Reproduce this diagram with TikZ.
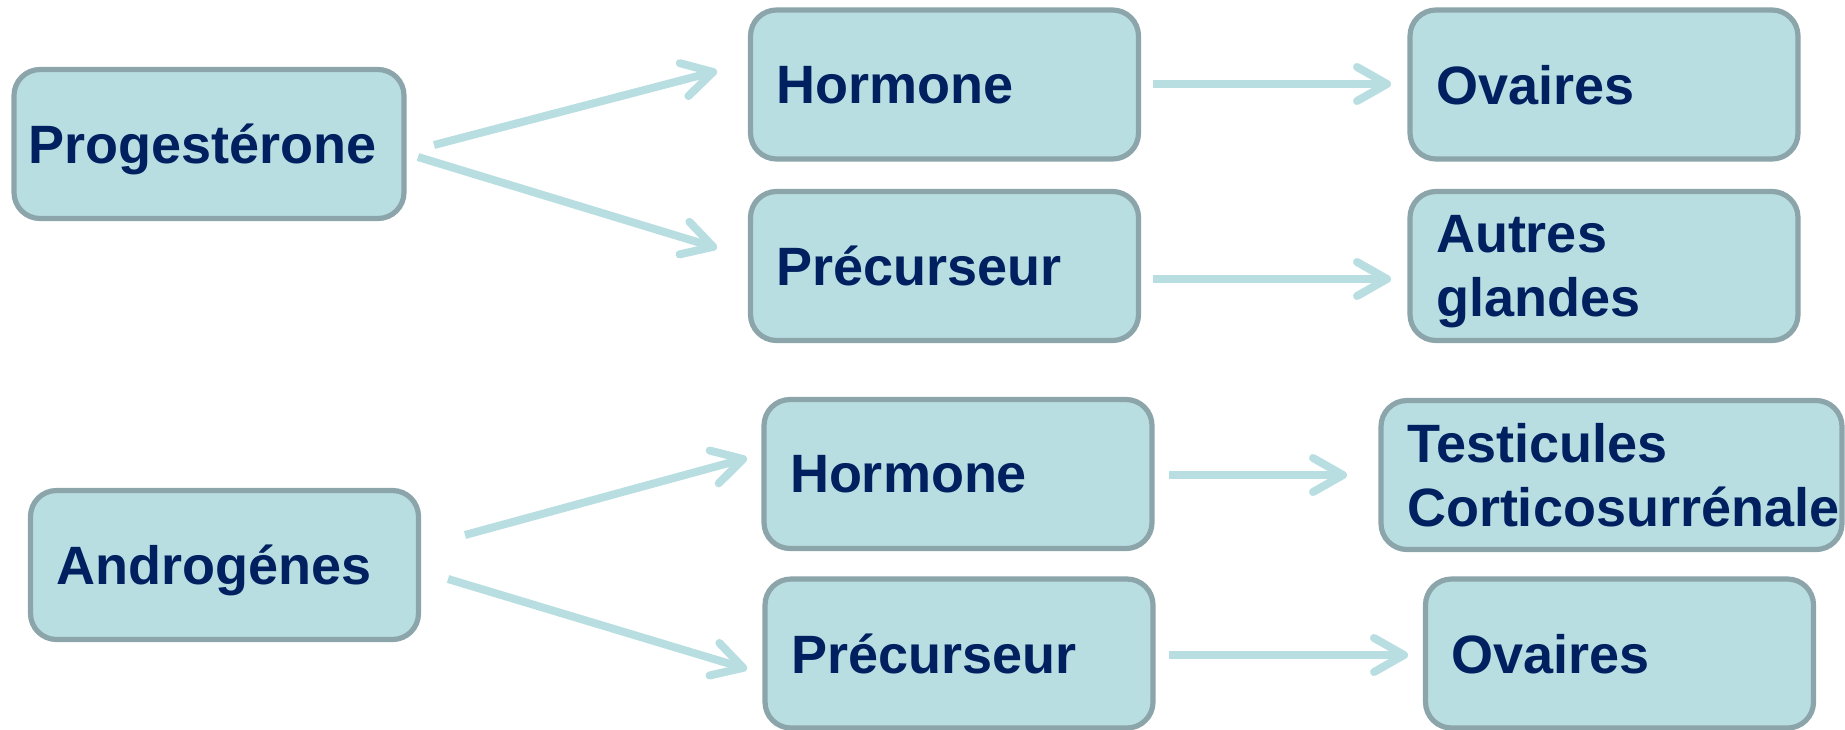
\documentclass[tikz,border=0pt]{standalone}
\usepackage{fontspec}
\setmainfont{Liberation Sans}
\usetikzlibrary{arrows.meta}

\definecolor{fond}{HTML}{B8DEE2}
\definecolor{bordure}{HTML}{8BA5AA}
\definecolor{trait}{HTML}{B8DEE2}
\definecolor{texte}{HTML}{002060}

\tikzset{
    bloc/.style={draw=bordure, fill=fond, line width=2.6pt, rounded corners=13pt,
        align=left, text=texte, font=\fontsize{27}{32}\selectfont\bfseries,
        inner xsep=13pt, inner ysep=0pt, minimum height=74.5pt, text width=168pt,
        text depth=0pt},
    double/.style={text depth=32pt},
    lien/.style={draw=trait, line width=4pt,
        -{Straight Barb[length=15pt, width=17pt, round]}}
}

\begin{document}
\begin{tikzpicture}[x=0.5pt, y=-0.5pt]
    % Fix the frame of the picture
    \useasboundingbox (0,0) rectangle (1845,729);

    % Place the boxes
    \node[bloc, inner xsep=7pt, text width=181pt] (prog) at (209,144) {Progestérone};
    \node[bloc] (hormA) at (944.5,84.5) {Hormone};
    \node[bloc] (precA) at (944.5,266) {Précurseur};
    \node[bloc] (ovA) at (1604,84.5) {Ovaires};
    \node[bloc, double] (autres) at (1604,266) {Autres\\glandes};

    \node[bloc] (andro) at (224.5,565) {Androgénes};
    \node[bloc] (hormB) at (958,474) {Hormone};
    \node[bloc] (precB) at (959,653.5) {Précurseur};
    \node[bloc, double, text width=204.5pt] (testi) at (1611.5,475) {Testicules\\\mbox{Corticosurrénale}};
    \node[bloc] (ovB) at (1619.5,653.5) {Ovaires};

    % Ends of the arrows
    \coordinate (p1) at (434,145);  \coordinate (h1) at (717,71);
    \coordinate (p2) at (418,157);  \coordinate (c1) at (717,248);
    \coordinate (h2) at (1153,84);  \coordinate (o1) at (1391,84);
    \coordinate (c2) at (1153,279); \coordinate (g1) at (1391,279);
    \coordinate (a1) at (465,535);  \coordinate (h3) at (747,458);
    \coordinate (a2) at (448,579);  \coordinate (c3) at (747,669);
    \coordinate (h4) at (1169,475); \coordinate (t1) at (1347,475);
    \coordinate (c4) at (1169,655); \coordinate (o2) at (1408,655);

    % Draw the arrows
    \draw[lien] (p1) -- (h1);
    \draw[lien] (p2) -- (c1);
    \draw[lien] (h2) -- (o1);
    \draw[lien] (c2) -- (g1);
    \draw[lien] (a1) -- (h3);
    \draw[lien] (a2) -- (c3);
    \draw[lien] (h4) -- (t1);
    \draw[lien] (c4) -- (o2);
\end{tikzpicture}
\end{document}
